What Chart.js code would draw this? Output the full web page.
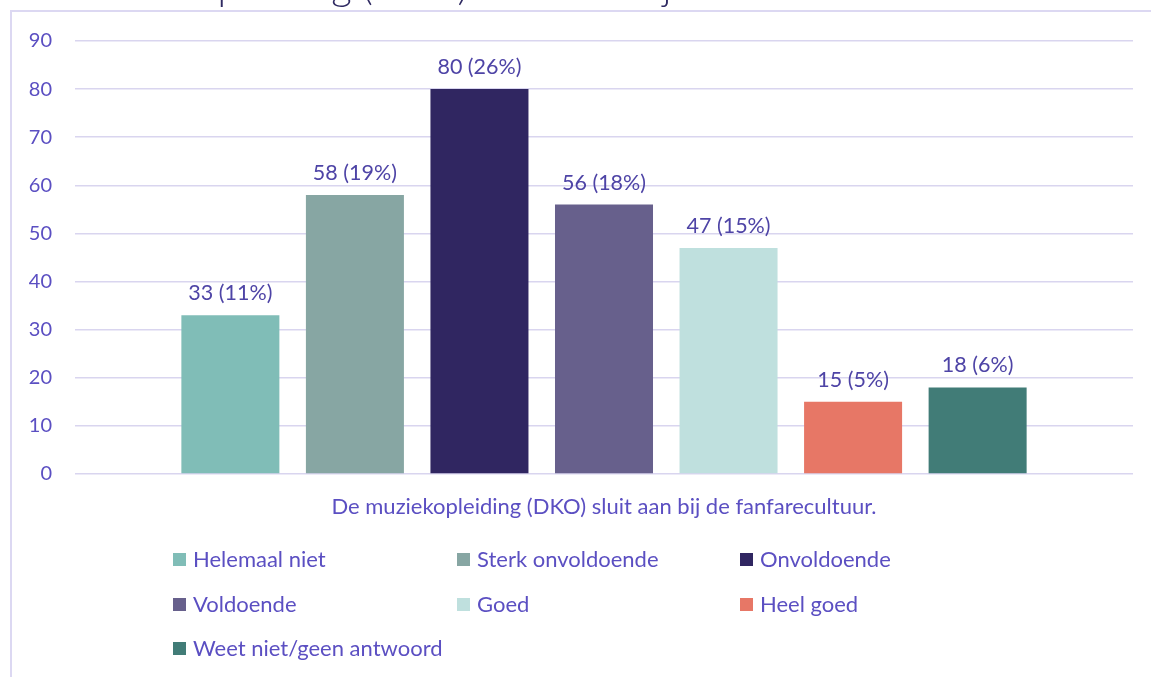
<!DOCTYPE html>
<html>
<head>
<meta charset="utf-8">
<script src="https://cdn.jsdelivr.net/npm/chart.js@4.4.1/dist/chart.umd.min.js"></script>
<style>
html,body{margin:0;padding:0;background:#fff;}
#wrap{position:absolute;left:0;top:0;width:1151px;height:677px;}
</style>
</head>
<body>
<div id="wrap"><canvas id="c" width="1151" height="677"></canvas></div>
<script>
const titleText = "De muziekopleiding (DKO) sluit aan bij de fanfarecultuur";
const categories = ["De muziekopleiding (DKO) sluit aan bij de fanfarecultuur."];
const seriesNames = ["Helemaal niet","Sterk onvoldoende","Onvoldoende","Voldoende","Goed","Heel goed","Weet niet/geen antwoord"];
const seriesValues = [33, 58, 80, 56, 47, 15, 18];
const seriesPercents = [11, 19, 26, 18, 15, 5, 6];
const seriesColors = ["#80bdb7","#87a6a3","#302661","#67608c","#bfe0de","#e77766","#417c77"];
const yTicks = [0,10,20,30,40,50,60,70,80,90];

const FONT = "Lato, 'Open Sans', sans-serif";
const TEXT = "#5b4fc2";

const datasets = seriesNames.map((n,i)=>({
  label:n,
  data:[seriesValues[i]],
  backgroundColor:seriesColors[i],
  borderWidth:0,
  categoryPercentage:0.824,
  barPercentage:0.787
}));

const decor = {
  id:'decor',
  beforeDraw(chart){
    const ctx = chart.ctx;
    ctx.save();
    ctx.fillStyle = '#fff';
    ctx.fillRect(0,0,chart.width,chart.height);
    ctx.strokeStyle = '#dcd8f2';
    ctx.lineWidth = 2;
    ctx.beginPath();
    ctx.moveTo(11,677); ctx.lineTo(11,11); ctx.lineTo(1151,11);
    ctx.stroke();
    // clipped title
    ctx.fillStyle = '#2f2a62';
    ctx.font = "300 40px " + FONT;
    ctx.textBaseline = 'alphabetic';
    ctx.textAlign = 'left';
    ctx.fillText(titleText, 14, 0);
    ctx.restore();
  },
  afterDatasetsDraw(chart){
    const ctx = chart.ctx;
    ctx.save();
    ctx.fillStyle = '#4e44a6';
    ctx.font = "21.5px " + FONT;
    ctx.textAlign = 'center';
    ctx.textBaseline = 'middle';
    chart.data.datasets.forEach((ds,i)=>{
      const el = chart.getDatasetMeta(i).data[0];
      ctx.fillText(ds.data[0] + " (" + seriesPercents[i] + "%)", el.x, el.y - 22);
    });
    // legend grid
    const colX = [173, 457, 740];
    const rowY = [559, 604, 648];
    ctx.font = "22px " + FONT;
    ctx.textAlign = 'left';
    chart.data.datasets.forEach((ds,i)=>{
      const x = colX[i%3], y = rowY[Math.floor(i/3)];
      ctx.fillStyle = ds.backgroundColor;
      ctx.fillRect(x, y-6, 13, 13);
      ctx.fillStyle = TEXT;
      ctx.fillText(ds.label, x+20, y+1);
    });
    ctx.restore();
  }
};

new Chart(document.getElementById('c'), {
  type:'bar',
  data:{labels:categories, datasets},
  options:{
    responsive:false,
    animation:false,
    layout:{padding:{top:41,right:18,left:0,bottom:0}},
    plugins:{legend:{display:false},tooltip:{enabled:false}},
    scales:{
      x:{
        grid:{display:false,drawTicks:false},
        border:{display:false},
        ticks:{color:TEXT,font:{family:FONT,size:22},padding:20},
        afterFit(s){s.height = 203;}
      },
      y:{
        min:0,max:90,
        afterBuildTicks(s){s.ticks = yTicks.map(v=>({value:v}));},
        grid:{color:'#d9d5ef',lineWidth:1.5,drawTicks:false},
        border:{display:false},
        ticks:{color:TEXT,font:{family:FONT,size:20},padding:23},
        afterFit(s){s.width = 75;}
      }
    }
  },
  plugins:[decor]
});
</script>
</body>
</html>
